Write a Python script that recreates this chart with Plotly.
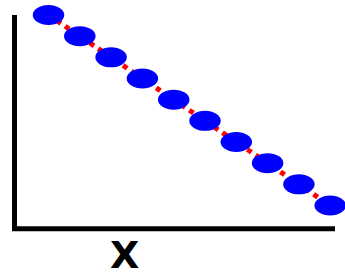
import plotly.graph_objects as go

# Data
x_values = [1, 2, 3, 4, 5, 6, 7, 8, 9, 10]
y_values = [10, 9, 8, 7, 6, 5, 4, 3, 2, 1]
x_label = "X"

W, H = 345, 278

fig = go.Figure()

# red dotted connecting line
fig.add_trace(go.Scatter(
    x=x_values, y=y_values, mode="lines",
    line=dict(color="#ff0000", width=5, dash="dot"),
    hoverinfo="skip", showlegend=False,
))

# blue elliptical markers anchored on the data points (pixel-sized)
shapes = []
for xv, yv in zip(x_values, y_values):
    shapes.append(dict(
        type="circle", xref="x", yref="y",
        xsizemode="pixel", ysizemode="pixel",
        xanchor=xv, yanchor=yv,
        x0=-15.75, x1=15.75, y0=-10, y1=10,
        fillcolor="#0000ff", line=dict(width=0), layer="above",
    ))

# axis lines (left and bottom)
shapes.append(dict(type="line", xref="paper", yref="paper",
                   x0=14.5 / W, x1=14.5 / W, y0=1 - 15 / H, y1=1 - 231 / H,
                   line=dict(color="black", width=5)))
shapes.append(dict(type="line", xref="paper", yref="paper",
                   x0=12 / W, x1=335 / W, y0=1 - 228.8 / H, y1=1 - 228.8 / H,
                   line=dict(color="black", width=5)))

fig.update_layout(
    width=W, height=H,
    margin=dict(l=0, r=0, t=0, b=0),
    paper_bgcolor="white", plot_bgcolor="white",
    showlegend=False,
    shapes=shapes,
    xaxis=dict(range=[-0.5495, 10.473], visible=False, fixedrange=True),
    yaxis=dict(range=[-2.423, 10.7086], visible=False, fixedrange=True),
    annotations=[dict(
        text="<b>" + x_label + "</b>", xref="paper", yref="paper",
        x=124.5 / W, y=0, xanchor="center", yanchor="bottom",
        borderpad=0,
        showarrow=False, font=dict(family="DejaVu Sans", size=38, color="black"),
    )],
)

fig.write_html(
    "out.html",
    config={"displayModeBar": False},
    post_script="document.body.style.margin='0';document.body.style.overflow='hidden';",
)
